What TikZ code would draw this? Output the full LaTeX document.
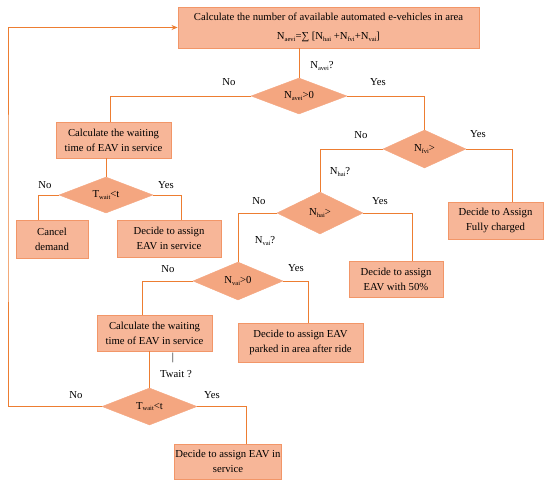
\documentclass[tikz,border=0pt]{standalone}
\usepackage{fontspec}
\setmainfont{Liberation Serif}
\usetikzlibrary{shapes.geometric,arrows.meta}
\definecolor{lineor}{RGB}{237,125,49}
\definecolor{boxfill}{RGB}{247,182,152}
\definecolor{boxdraw}{RGB}{242,150,104}
\definecolor{dfill}{RGB}{244,166,128}
\newcommand{\lowidx}[1]{\raisebox{-0.3ex}{\fontsize{6.5}{6.5}\selectfont #1}}
\tikzset{
  every node/.style={font=\fontsize{10.7}{15}\selectfont},
  procbox/.style={draw=boxdraw, line width=0.9pt, fill=boxfill, rectangle, minimum width=#1, inner sep=1pt, align=center},
  procbox/.default=100pt,
  decbox/.style={draw=dfill, fill=dfill, diamond, aspect=2.5, inner sep=0pt},
  flow/.style={draw=lineor, line width=1pt},
  lbl/.style={inner sep=1pt}
}
\begin{document}
\begin{tikzpicture}[x=1pt,y=-1pt]
\useasboundingbox (0,0) rectangle (550,488);
% nodes
\node[procbox=301pt, minimum height=41pt, font=\fontsize{10.7}{19}\selectfont] (top) at (328.5,27.5)
  {Calculate the number of available automated e-vehicles in area\\N\lowidx{aevi}=∑ [N\lowidx{hai} +N\lowidx{fvi}+N\lowidx{vai}]};
\node[decbox, minimum width=96pt, minimum height=36pt] (d1) at (299,96) {N\lowidx{avei}>0};
\node[procbox=115pt, minimum height=36pt] (b2) at (113.5,140) {Calculate the waiting\\time of EAV in service};
\node[decbox, minimum width=94pt, minimum height=36pt] (d3) at (106,195) {T\lowidx{wait}<t};
\node[procbox=72pt, minimum height=38pt] (cancel) at (52,239) {Cancel\\demand};
\node[procbox=104pt, minimum height=37pt] (dec1) at (169,238.5) {Decide to assign\\EAV in service};
\node[decbox, minimum width=83pt, minimum height=38pt] (d2) at (424.5,149) {N\lowidx{fvi}>};
\node[procbox=95pt, minimum height=37pt] (full) at (495.5,220.5) {Decide to Assign\\Fully charged};
\node[decbox, minimum width=86pt, minimum height=42pt] (d4) at (320,213) {N\lowidx{hai}>};
\node[procbox=94pt, minimum height=36pt] (half) at (396,279) {Decide to assign\\EAV with 50\%};
\node[decbox, minimum width=90pt, minimum height=38pt] (d5) at (238,281) {N\lowidx{vai}>0};
\node[procbox=115pt, minimum height=36pt] (b3) at (154.5,333) {Calculate the waiting\\time of EAV in service};
\node[procbox=125pt, minimum height=39pt] (park) at (300.5,342.5) {Decide to assign EAV\\parked in area after ride};
\node[decbox, minimum width=95pt, minimum height=37pt] (d6) at (149.5,406.5) {T\lowidx{wait}<t};
\node[procbox=102pt, minimum height=35pt] (dec2) at (228,461.5) {Decide to assign EAV in\\service};
% labels
\node[lbl] (qa) at (322,66) {N\lowidx{avei}?};
\node[lbl] (n1) at (229,82) {No};
\node[lbl] (y1) at (378,82) {Yes};
\node[lbl] (n3) at (45,185) {No};
\node[lbl] (y3) at (166,185) {Yes};
\node[lbl] (n2) at (361,135) {No};
\node[lbl] (y2) at (478,134) {Yes};
\node[lbl] (qh) at (340,172) {N\lowidx{hai}?};
\node[lbl] (n4) at (259,201) {No};
\node[lbl] (y4) at (380,201) {Yes};
\node[lbl] (qv) at (265,241) {N\lowidx{vai}?};
\node[lbl] (n5) at (168,269) {No};
\node[lbl] (y5) at (296,268) {Yes};
\node[lbl] (bar) at (173,358) {|};
\node[lbl] (qt) at (176,374) {Twait ?};
\node[lbl] (n6) at (76,395) {No};
\node[lbl] (y6) at (212,395) {Yes};
% connectors
\coordinate (lp) at (8,200);
\draw[flow] (d1.north |- top.south) -- (d1.north);
\draw[flow] (d1.west) -| ([xshift=-3.5pt]b2.north);
\draw[flow] (d1.east) -| (d2.north);
\draw[flow] (d3.north |- b2.south) -- (d3.north);
\draw[flow] (d3.west) -| ([xshift=-14pt]cancel.north);
\draw[flow] (d3.east) -| ([xshift=12pt]dec1.north);
\draw[flow] (d2.west) -| (d4.north);
\draw[flow] (d2.east) -| ([xshift=16.5pt]full.north);
\draw[flow] (d4.west) -| (d5.north);
\draw[flow] (d4.east) -| ([xshift=16pt]half.north);
\draw[flow] (d5.west) -| ([xshift=-12.5pt]b3.north);
\draw[flow] (d5.east) -| ([xshift=7.5pt]park.north);
\draw[flow] (d6.north |- b3.south) -- (d6.north);
\draw[flow] (d6.east) -| ([xshift=18pt]dec2.north);
\draw[flow,-{Stealth[length=6pt,width=5pt]}] (d6.west) -| (lp) |- (top.west);
\end{tikzpicture}
\end{document}
